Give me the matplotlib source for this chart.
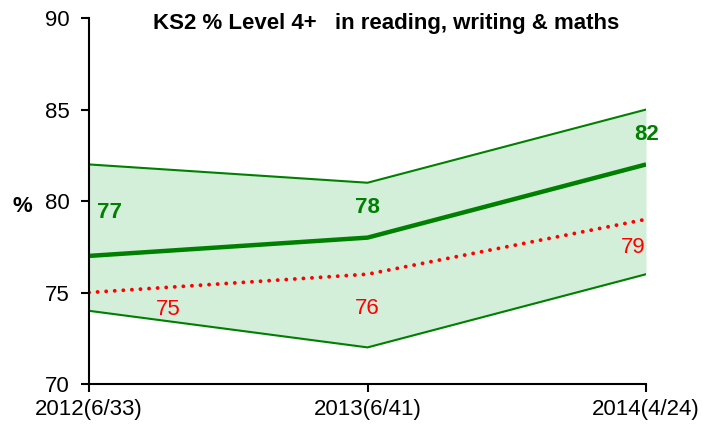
import matplotlib
matplotlib.use("Agg")
import matplotlib.pyplot as plt

categories = ["2012(6/33)", "2013(6/41)", "2014(4/24)"]
upper = [82, 81, 85]
lower = [74, 72, 76]
school = [77, 78, 82]
national = [75, 76, 79]
school_labels = ["77", "78", "82"]
national_labels = ["75", "76", "79"]
yticks = [70, 75, 80, 85, 90]

plt.rcParams['font.family'] = ['Liberation Sans', 'DejaVu Sans']

fig = plt.figure(figsize=(7.03, 4.30), dpi=100)
ax = fig.add_axes([0.1266, 0.107, 0.7924, 0.851])
x = list(range(len(categories)))

ax.fill_between(x, lower, upper, color='#d4efd9', linewidth=0)
ax.plot(x, upper, color='#008000', lw=1.5)
ax.plot(x, lower, color='#008000', lw=1.5)
ax.plot(x, school, color='#008000', lw=3.2, solid_capstyle='butt')
ax.plot(x, national, color='#ff0000', lw=2.8, linestyle=(0, (0.01, 2.2)), dash_capstyle='round')

gr = '#008000'
fs = 16
ax.annotate(school_labels[0], (x[0], school[0]), xytext=(5.5, 31), textcoords='offset points',
            ha='left', va='center', color=gr, fontsize=fs, fontweight='bold')
ax.annotate(school_labels[1], (x[1], school[1]), xytext=(0, 22), textcoords='offset points',
            ha='center', va='center', color=gr, fontsize=fs, fontweight='bold')
ax.annotate(school_labels[2], (x[2], school[2]), xytext=(0.5, 21.5), textcoords='offset points',
            ha='center', va='center', color=gr, fontsize=fs, fontweight='bold')
ax.annotate(national_labels[0], (x[0], national[0]), xytext=(57, -12), textcoords='offset points',
            ha='center', va='center', color='#ff0000', fontsize=fs)
ax.annotate(national_labels[1], (x[1], national[1]), xytext=(0, -24.5), textcoords='offset points',
            ha='center', va='center', color='#ff0000', fontsize=fs)
ax.annotate(national_labels[2], (x[2], national[2]), xytext=(-9.4, -20), textcoords='offset points',
            ha='center', va='center', color='#ff0000', fontsize=fs)

ax.set_xlim(0, 2)
ax.set_ylim(70, 90)
ax.set_yticks(yticks)
ax.set_yticklabels([str(v) for v in yticks], fontsize=fs)
ax.set_xticks(x)
ax.set_xticklabels(categories, fontsize=fs)
ax.tick_params(axis='both', direction='out', length=6, width=1.5)
ax.tick_params(axis='x', pad=5)
ax.tick_params(axis='y', pad=8)
for s in ['top', 'right']:
    ax.spines[s].set_visible(False)
for s in ['left', 'bottom']:
    ax.spines[s].set_linewidth(1.5)
ax.set_ylabel('%', rotation=0, fontsize=fs, fontweight='bold')
ax.yaxis.set_label_coords(-0.12, 0.456)
fig.text(386 / 703, 1 - 29 / 430, 'KS2 % Level 4+   in reading, writing & maths',
         fontsize=fs, fontweight='bold', ha='center', va='baseline')

fig.savefig('out.png', dpi=100)
